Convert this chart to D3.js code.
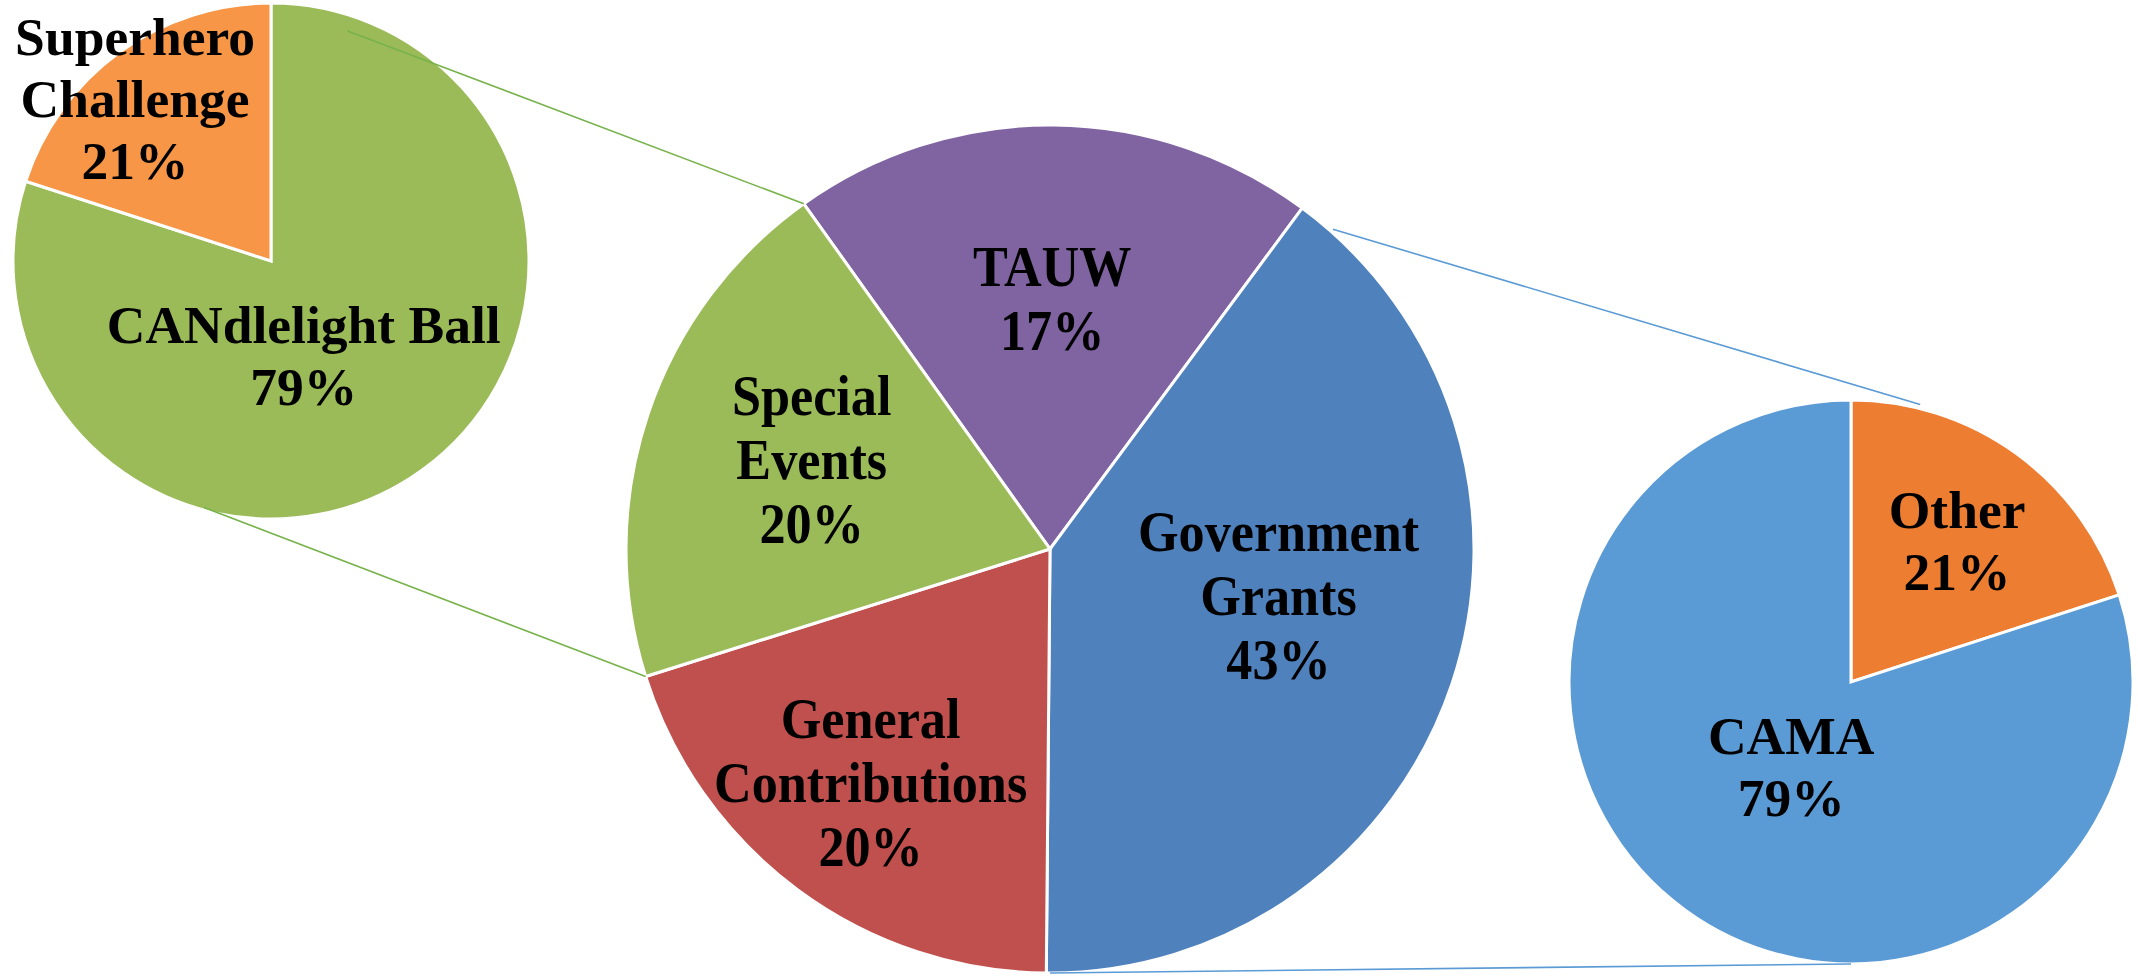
<!DOCTYPE html>
<html>
<head>
<meta charset="utf-8">
<script src="https://cdn.jsdelivr.net/npm/d3@7"></script>
<style>
  body { margin: 0; background: #fff; }
  text { font-family: "Liberation Serif", "Times New Roman", serif; font-weight: bold; fill: #000; }
</style>
</head>
<body>
<svg id="chart"></svg>
<script>
// Main pie: revenue by source (slice sizes as drawn, labels as printed)
const mainNames  = ["TAUW", "Government Grants", "General Contributions", "Special Events"];
const mainShares = [20, 40, 20, 20];
const mainLabels = ["17%", "43%", "20%", "20%"];
const mainColors = ["#8064A2", "#4F81BD", "#C0504D", "#9BBB59"];

// Left pie: breakdown of Special Events
const eventNames  = ["CANdlelight Ball", "Superhero Challenge"];
const eventShares = [80, 20];
const eventLabels = ["79%", "21%"];
const eventColors = ["#9BBB59", "#F79646"];

// Right pie: breakdown of Government Grants
const grantNames  = ["Other", "CAMA"];
const grantShares = [20, 80];
const grantLabels = ["21%", "79%"];
const grantColors = ["#ED7D31", "#5B9BD5"];

const width = 2138, height = 976;
const deg = Math.PI / 180;

const svg = d3.select("#chart")
    .attr("width", width)
    .attr("height", height)
    .attr("viewBox", [0, 0, width, height]);

svg.append("rect").attr("width", width).attr("height", height).attr("fill", "#fff");

// where each pie sits, and how its labels look
const mainPie  = {cx: 1050, cy: 549, r: 424, start: -35.5, font: 58, squeeze: 0.9, gap: 64};
const eventPie = {cx: 271,  cy: 261, r: 258, start: 0, font: 53.5, squeeze: 1, gap: 62};
const grantPie = {cx: 1851, cy: 682, r: 282, start: 0, font: 53.5, squeeze: 1, gap: 62};

// label spots: [angle offset from slice middle (deg), fraction of radius]
const mainSpots  = [[0, 0.59], [-7, 0.55], [1, 0.695], [2, 0.6]];
const eventSpots = [[17, 0.39], [-4, 0.82]];
const grantSpots = [[1, 0.625], [-1, 0.37]];

function polar(p, a, rr) {
  return [p.cx + rr * Math.sin(a), p.cy - rr * Math.cos(a)];
}

function layoutOf(p, shares) {
  return d3.pie().sort(null).value(d => d)
      .startAngle(p.start * deg).endAngle(p.start * deg + 2 * Math.PI)(shares);
}

function drawPie(p, names, shares, labels, colors, spots) {
  const arcs = layoutOf(p, shares);
  const arc = d3.arc().innerRadius(0).outerRadius(p.r);
  const g = svg.append("g").attr("transform", "translate(" + p.cx + "," + p.cy + ")");

  g.selectAll("path")
    .data(arcs)
    .enter().append("path")
      .attr("d", arc)
      .attr("fill", (d, i) => colors[i])
      .attr("stroke", "#fff")
      .attr("stroke-width", 3)
      .attr("stroke-linejoin", "miter");

  // stacked labels: name words then percent
  g.selectAll("text")
    .data(arcs)
    .enter().append("text")
      .attr("text-anchor", "middle")
      .attr("font-size", p.font)
      .attr("transform", function(d, i) {
        const mid = (d.startAngle + d.endAngle) / 2 + spots[i][0] * deg;
        const rr = spots[i][1] * p.r;
        return "translate(" + (rr * Math.sin(mid)) + "," + (-rr * Math.cos(mid)) + ") scale(" + p.squeeze + ",1)";
      })
      .each(function(d, i) {
        let lines = names[i] === "CANdlelight Ball" ? [names[i]] : names[i].split(" ");
        lines = lines.concat([labels[i]]);
        const top = -(lines.length - 1) * p.gap / 2 + p.font * 0.33;
        const t = d3.select(this);
        lines.forEach((s, k) => {
          t.append("tspan").attr("x", 0).attr("y", top + k * p.gap).text(s);
        });
      });
}

drawPie(mainPie, mainNames, mainShares, mainLabels, mainColors, mainSpots);
drawPie(eventPie, eventNames, eventShares, eventLabels, eventColors, eventSpots);
drawPie(grantPie, grantNames, grantShares, grantLabels, grantColors, grantSpots);

// connector lines from the exploded slices to their breakdown pies
const mainArcs = layoutOf(mainPie, mainShares);
const spec = mainArcs[3], gov = mainArcs[1];

const connectors = [
  {from: polar(mainPie, spec.endAngle, mainPie.r),   to: polar(eventPie, 18.4 * deg, eventPie.r * 0.94), color: "#77B24A"},
  {from: polar(mainPie, spec.startAngle, mainPie.r), to: polar(eventPie, 195.2 * deg, eventPie.r * 0.99), color: "#77B24A"},
  {from: polar(mainPie, gov.startAngle + 5 * deg, mainPie.r + 3), to: polar(grantPie, 14 * deg, grantPie.r + 4), color: "#5B9BD5"},
  {from: polar(mainPie, Math.PI, mainPie.r), to: polar(grantPie, Math.PI, grantPie.r), color: "#5B9BD5"}
];

svg.append("g").selectAll("line")
  .data(connectors)
  .enter().append("line")
    .attr("x1", d => d.from[0]).attr("y1", d => d.from[1])
    .attr("x2", d => d.to[0]).attr("y2", d => d.to[1])
    .attr("stroke", d => d.color)
    .attr("stroke-width", 1.6);
</script>
</body>
</html>
